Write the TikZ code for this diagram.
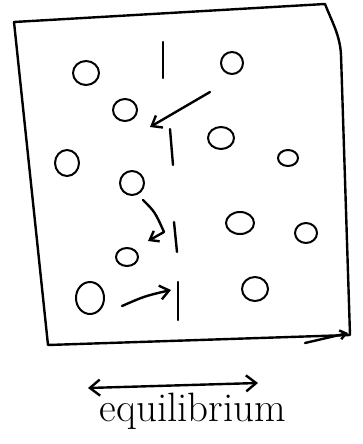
\documentclass[tikz,border=0pt]{standalone}
\usetikzlibrary{arrows.meta}
\begin{document}
\begin{tikzpicture}[x=1pt,y=-1pt,line width=2.4pt,line cap=round,line join=round]
    \useasboundingbox (0,0) rectangle (362,444);
    % 容器
    \draw (14,22) -- (325,4) .. controls (332,22) and (340,35) .. (341,55)
        -- (350,335) -- (48,345) -- cycle;
    \draw[-{Straight Barb[length=6pt,width=9pt]}] (305,343) -- (348,333);
    
    % 分子
    \foreach \x/\y/\rx/\ry in {86/73/13/12, 232/63/11/11, 125/110/12/11, 221/138/13/11,
        288/158/10/8, 67/163/12/13, 132/183/12/12, 240/223/14/11, 306/233/11/10,
        127/257/11/9, 90/298/14/16, 255/289/13/12}
        \draw[line width=2pt] (\x,\y) ellipse ({\rx} and {\ry});
    
    % 隔板
    \draw (163,42) -- (163,78);
    \draw (174,222) -- (177,252);
    \draw (178,282) -- (178,320);
    
    % 运动
    \draw[-{Straight Barb[length=9pt,width=14pt]}] (210,92) -- (150,127);
    \draw (173,165) -- (170,129);
    \draw[-{Straight Barb[length=8pt,width=12pt]}] (143,200) .. controls (155,212) .. (164,232) -- (148,241);
    \draw[-{Straight Barb[length=9pt,width=14pt]}] (122,306) .. controls (145,296) .. (171,290);
    
    % 平衡
    \draw[{Straight Barb[length=10pt,width=16pt]}-{Straight Barb[length=10pt,width=16pt]}]
        (88,388) -- (258,383);
    \node at (193,411) {\fontsize{41}{41}\selectfont equilibrium};
\end{tikzpicture}
\end{document}
